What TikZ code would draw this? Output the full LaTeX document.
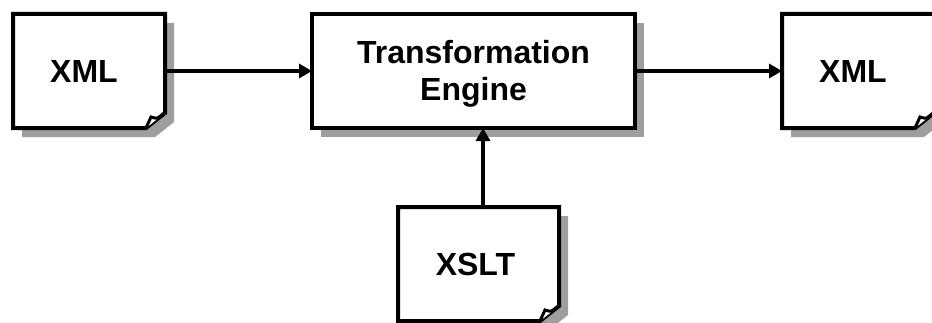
\documentclass[tikz,border=0pt]{standalone}
\usepackage{fontspec}
\setmainfont{Liberation Sans}
\usetikzlibrary{arrows.meta, positioning}

% sheet with a turned-down corner and a grey drop shadow
\newcommand{\docsheet}[1]{%
  \fill[docshadow] ([shift={(9,-9)}]#1.north west) -- ([shift={(9,-9)}]#1.north east)
    -- ([shift={(9,6)}]#1.south east) -- ([shift={(-10,-9)}]#1.south east)
    -- ([shift={(9,-9)}]#1.south west) -- cycle;
  \draw[edge, fill=white] (#1.north west) -- (#1.north east)
    -- ([yshift=15pt]#1.south east) -- ([xshift=-19pt]#1.south east)
    -- (#1.south west) -- cycle;
  \draw[edge, line width=3pt, fill=white] ([yshift=15pt]#1.south east)
    .. controls ([shift={(-7,9)}]#1.south east) .. ([shift={(-14,11)}]#1.south east)
    -- ([xshift=-19pt]#1.south east);
}

\begin{document}
\begin{tikzpicture}[x=1pt, y=1pt,
    box/.style={rectangle, minimum width=152, minimum height=114, inner sep=0pt, outer sep=0pt},
    label/.style={align=center, font=\fontsize{32}{37}\selectfont\bfseries},
    edge/.style={line width=4pt, line join=miter},
    docshadow/.style={fill=black!38},
    arr/.style={line width=4pt, -{Triangle[length=13pt 0 0, width=14pt 0 0]}}
  ]
  \useasboundingbox (0,0) rectangle (932,322);

  % input, engine, output
  \node[box] (xmlin) at (89,251) {};
  \node[box, minimum width=323, right=147 of xmlin] (eng) {};
  \node[box, right=147 of eng] (xmlout) {};

  % stylesheet
  \node[box, minimum width=161] (xslt) at (478.5,58) {};

  \docsheet{xmlin}
  \docsheet{xmlout}
  \docsheet{xslt}
  \fill[docshadow] ([shift={(9,-9)}]eng.north west) rectangle ([shift={(9,-9)}]eng.south east);
  \draw[edge, fill=white] (eng.north west) rectangle (eng.south east);

  \node[label, xshift=-5] at (xmlin) {XML};
  \node[label] at (eng) {\rule{0pt}{29.5pt}Transformation\\Engine};
  \node[label, xshift=-5] at (xmlout) {XML};
  \node[label, xshift=-3] at (xslt) {XSLT};

  % flow
  \coordinate (up) at (483,0);
  \draw[arr] (xmlin) -- (eng);
  \draw[arr] (eng) -- (xmlout);
  \draw[arr] (xslt.north -| up) -- (eng.south -| up);
\end{tikzpicture}
\end{document}
